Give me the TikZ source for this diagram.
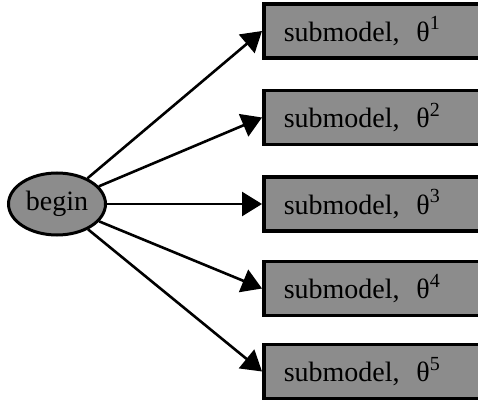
\documentclass[tikz,border=0pt]{standalone}
\usepackage{fontspec}
\setmainfont{Liberation Serif}
\usetikzlibrary{arrows.meta,%
                shapes.geometric}
\newcommand{\subtheta}[1]{submodel,\hspace{0.6em}θ\raisebox{0.42em}{\fontsize{20}{20}\selectfont #1}}

\begin{document}
\begin{tikzpicture}[x=1pt,y=-1pt,font=\fontsize{28}{30}\selectfont]
		\tikzset{BeginStyle/.style = {draw=black,line width=3pt,fill=black!45,shape=ellipse,minimum width=97pt,minimum height=62pt,inner sep=0pt}}
		\tikzset{SubStyle/.style = {draw=black,line width=3.5pt,fill=black!45,anchor=west,minimum height=54pt,text width=240pt,inner xsep=20pt,align=left}}
		\tikzset{EdgeStyle/.style = {line width=2.6pt,-{Triangle[length=20pt,width=24pt]}}}
		\useasboundingbox (0,0) rectangle (478,403);
		\node[BeginStyle] (B) at (57,204) {begin};
		\node[SubStyle] (S1) at (262,31) {\subtheta{1}};
		\node[SubStyle] (S2) at (262,117.5) {\subtheta{2}};
		\node[SubStyle] (S3) at (262,204) {\subtheta{3}};
		\node[SubStyle] (S4) at (262,288.5) {\subtheta{4}};
		\node[SubStyle] (S5) at (262,371.5) {\subtheta{5}};
		\draw[EdgeStyle] (B) -- (S1.west);
		\draw[EdgeStyle] (B) -- (S2.west);
		\draw[EdgeStyle] (B) -- (S3.west);
		\draw[EdgeStyle] (B) -- (S4.west);
		\draw[EdgeStyle] (B) -- (S5.west);
	\end{tikzpicture}
\end{document}
